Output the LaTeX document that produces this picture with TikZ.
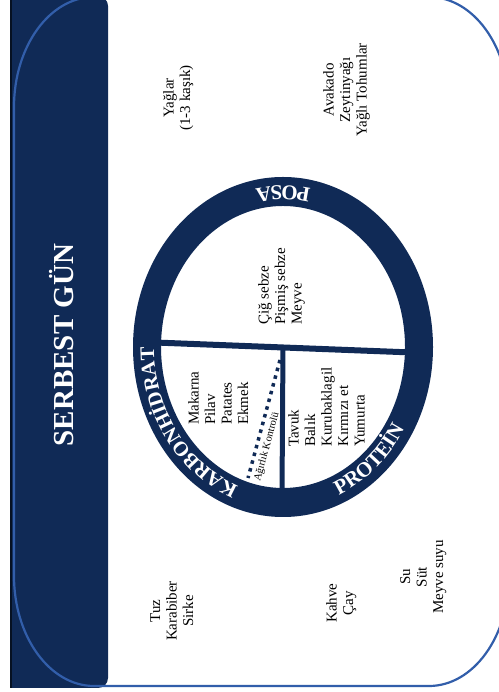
\documentclass[tikz,border=0pt]{standalone}
\usepackage{fontspec}
\setmainfont{Liberation Serif}
\usetikzlibrary{decorations.text}
\definecolor{navy}{RGB}{16,42,86}
\definecolor{frameblue}{RGB}{50,94,170}
\begin{document}
\begin{tikzpicture}[x=1pt,y=1pt,
  lbl/.style={font=\fontsize{15}{16.5}\selectfont, rotate=90, inner sep=0pt},
  lblL/.style={lbl, align=left, anchor=north west},
  lblC/.style={lbl, align=center, anchor=north},
  ringtxt/.style={decorate, decoration={text along path, text align=center, text color=white, text={#1}}}]
\useasboundingbox (0,0) rectangle (498,692);
% left strip
\fill[navy] (10,4) -- (10,696) -- (98,696) arc[start angle=90,end angle=0,radius=10] -- (108,14) arc[start angle=0,end angle=-90,radius=10] -- cycle;
\draw[black!60!navy, line width=1.5] (10.75,4) -- (10.75,692);
\node[font=\bfseries\fontsize{29}{29}\selectfont, text=white, rotate=90, inner sep=0pt] (serbest) at (62,347) {SERBEST GÜN};
% frame
\draw[frameblue, line width=2.2] (14,116) -- (14,585) arc[start angle=180,end angle=90,x radius=80,y radius=110] -- (429,695) arc[start angle=90,end angle=0,x radius=80,y radius=110] -- (509,116) arc[start angle=0,end angle=-90,x radius=80,y radius=110] -- (94,6) arc[start angle=270,end angle=180,x radius=80,y radius=110] -- cycle;
% plate ring
\fill[navy, even odd rule] (283,345) ellipse[x radius=150, y radius=170] (283,345) ellipse[x radius=122, y radius=141];
\draw[navy, line width=6] (155,349.5) -- (412,339.5);
\draw[navy, line width=5] (283,346) -- (282,200);
\draw[navy, line width=3.5, dash pattern=on 3.5 off 4.5] (280,332) -- (248,214);
\node[font=\fontsize{10.5}{10.5}\selectfont, rotate=74.7, inner sep=0pt] (agirlik) at (267,245) {Ağırlık Kontrolü};
% ring labels
\path[ringtxt={|\bfseries\fontsize{21}{21}\selectfont|POSA}] (283,345) ++(50:141 and 161) arc[start angle=50, end angle=130, x radius=141, y radius=161];
\path[ringtxt={|\bfseries\fontsize{21}{21}\selectfont|PROTEİN}] (283,345) ++(-95:141 and 161) arc[start angle=-95, end angle=-5, x radius=141, y radius=161];
\path[ringtxt={|\bfseries\fontsize{20.5}{20.5}\selectfont|KARBONHİDRAT}] (283,345) ++(268:129 and 148) arc[start angle=268, end angle=164, x radius=129, y radius=148];
% sector texts
\node[lblL] (sebze) at (258,367) {Çiğ sebze\\Pişmiş sebze\\Meyve};
\node[lblL] (karb) at (188,267) {Makarna\\Pilav\\Patates\\Ekmek};
\node[lblL] (prot) at (288,245) {Tavuk\\Balık\\Kurubaklagil\\Kırmızı et\\Yumurta};
% outer texts
\node[lblC] (yag) at (163,594) {Yağlar\\(1-3 kaşık)};
\node[lblC] (avo) at (323,602) {Avakado\\Zeytinyağı\\Yağlı Tohumlar};
\node[lblC] (tuz) at (150,81) {Tuz\\Karabiber\\Sirke};
\node[lblC] (kahve) at (326,89) {Kahve\\Çay};
\node[lblC] (su) at (400,115) {Su\\Süt\\Meyve suyu};
\end{tikzpicture}
\end{document}
